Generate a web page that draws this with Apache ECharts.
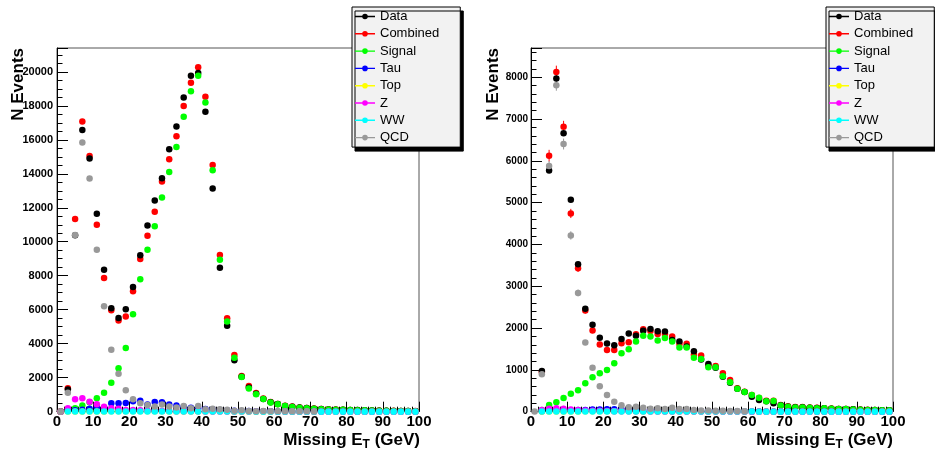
<!DOCTYPE html>
<html>
<head>
<meta charset="utf-8">
<script src="https://cdn.jsdelivr.net/npm/echarts@6/dist/echarts.min.js"></script>
<style>
html,body{margin:0;padding:0;background:#fff;}
#chart{width:935px;height:453px;}
</style>
</head>
<body>
<div id="chart"></div>
<script>
// Bin centres (Missing E_T, GeV)
const binCenters = [1,3,5,7,9,11,13,15,17,19,21,23,25,27,29,31,33,35,37,39,41,43,45,47,49,
  51,53,55,57,59,61,63,65,67,69,71,73,75,77,79,81,83,85,87,89,91,93,95,97,99];
const seriesNames = ['Data','Combined','Signal','Tau','Top','Z','WW','QCD'];
const xTicks = [0,10,20,30,40,50,60,70,80,90,100];

// ---- Left panel ----
const dataL = [10,1300,10380,16580,14900,11650,8350,6090,5520,6030,7330,9200,10960,12420,13740,15440,16780,18490,19770,19930,17650,13130,8470,5050,3030,
  2060,1420,1060,750,550,450,330,290,240,215,175,155,135,118,115,98,95,80,70,60,52,45,40,35,30];
const combL = [10,1380,11340,17080,15050,11000,7860,5970,5360,5600,7090,8980,10360,11770,13540,14860,16210,17980,19360,20260,18530,14520,9220,5500,3340,
  2100,1510,1100,780,570,460,350,300,250,225,185,165,145,125,120,105,100,85,75,65,58,50,45,40,35];
const sigL = [0,50,200,360,550,790,1120,1710,2550,3750,5740,7800,9530,10910,12600,14110,15580,17350,18860,19770,18200,14210,8940,5300,3180,
  2040,1360,1020,740,540,440,330,280,230,210,170,150,130,112,110,95,90,78,68,58,50,44,38,34,28];
const tauL = [0,50,80,120,170,260,200,490,490,510,610,650,430,570,550,430,370,295,235,200,160,140,100,80,60,
  45,35,30,25,20,15,12,10,10,8,8,6,6,5,5,4,4,3,3,3,2,2,2,2,2];
const topL = [0,5,8,10,12,15,18,20,22,24,25,25,24,22,20,18,16,14,12,10,8,7,6,5,4,
  4,3,3,2,2,2,2,1,1,1,1,1,1,1,1,1,1,1,1,1,1,1,1,1,1];
const zL = [0,200,727,786,590,432,295,200,177,100,100,80,60,50,40,35,30,25,20,20,15,12,10,10,8,
  8,6,6,5,5,4,4,3,3,3,2,2,2,2,2,2,2,1,1,1,1,1,1,1,1];
const wwL = [null,10,12,14,15,16,17,18,18,18,18,17,16,15,14,13,12,11,10,10,9,8,7,6,6,
  5,5,4,4,4,3,3,3,3,2,2,2,2,2,2,2,2,1,1,1,1,1,1,1,1];
const qcdL = [0,1120,10390,15840,13720,9530,6210,3650,2240,1260,730,490,390,300,430,300,240,330,200,330,140,180,140,120,60,
  80,40,30,35,30,25,30,20,25,20,15,null,null,null,null,null,null,null,null,null,null,null,null,null,null];

// ---- Right panel ----
const dataR = [null,974,5770,7970,6660,5070,3530,2460,2080,1770,1630,1590,1740,1870,1815,1935,1980,1925,1918,1718,1678,1560,1445,1250,1140,
  1054,838,695,551,471,359,279,247,200,152,120,104,104,96,88,80,72,64,64,56,48,40,40,32,32];
const combR = [null,950,6124,8128,6818,4742,3433,2419,1940,1605,1477,1477,1637,1661,1852,1972,1932,1860,1860,1800,1620,1625,1360,1345,1110,
  1094,918,758,560,480,399,330,260,263,160,128,110,110,100,92,85,76,66,66,60,52,45,42,36,35];
const sigR = [null,40,160,224,327,431,511,679,822,918,998,1158,1400,1495,1680,1815,1800,1705,1760,1680,1537,1535,1290,1260,1062,
  1062,846,703,551,471,399,335,247,255,150,120,100,100,95,85,80,70,62,62,55,48,42,40,32,32];
const tauR = [null,10,20,30,30,30,40,40,50,50,60,60,50,40,40,30,30,25,20,20,15,12,10,10,8,
  8,6,6,5,5,4,4,3,3,3,2,2,2,2,2,2,2,1,1,1,1,1,1,1,1];
const topR = [null,2,3,4,5,6,7,8,8,9,9,9,9,8,8,7,7,6,6,5,5,4,4,3,3,
  3,2,2,2,2,1,1,1,1,1,1,1,1,1,1,1,1,1,1,1,1,1,1,1,1];
const zR = [null,40,70,80,70,50,40,30,25,20,15,12,10,10,8,8,6,6,5,5,4,4,3,3,3,
  2,2,2,2,2,1,1,1,1,1,1,1,1,1,1,1,1,1,1,1,1,1,1,1,1];
const wwR = [null,4,5,6,6,7,7,7,7,7,7,7,6,6,6,5,5,5,4,4,4,3,3,3,3,
  2,2,2,2,2,2,1,1,1,1,1,1,1,1,1,1,1,1,1,1,1,1,1,1,1];
const qcdR = [5,894,5876,7808,6403,4216,2842,1653,1054,607,399,240,152,104,120,96,72,80,64,96,64,64,40,30,30,
  20,20,15,15,10,null,null,null,null,null,null,null,null,null,null,null,null,null,null,null,null,null,null,null,null];
// Uncertainties (right panel)
const errCombR = [0,60,140,150,140,110,90,70,60,50,45,45,45,45,45,45,45,45,45,45,40,40,40,40,35,
  35,30,30,25,25,20,20,20,20,15,15,15,15,15,15,12,12,12,12,12,10,10,10,10,10];
const errQcdR = [0,60,120,130,130,100,80,60,50,40,35,30,25,20,20,20,15,15,15,15,15,15,10,10,10,
  10,10,8,8,6,0,0,0,0,0,0,0,0,0,0,0,0,0,0,0,0,0,0,0,0];

const colors = {Data:'#000000',Combined:'#ff0000',Signal:'#00ff00',Tau:'#0000ff',Top:'#ffff00',Z:'#ff00ff',WW:'#00ffff',QCD:'#999999'};
const FONT = "'Liberation Sans', Arial, Helvetica, sans-serif";

const chart = echarts.init(document.getElementById('chart'), null, {renderer:'canvas'});

function pts(arr){ return binCenters.map((x,i)=>[x, arr[i]]); }
function errPts(vals, errs){ return binCenters.map((x,i)=> vals[i]==null ? null : [x, vals[i], errs[i]]).filter(p=>p); }

function scat(name, arr, gi){
  return {type:'scatter', name:name, xAxisIndex:gi, yAxisIndex:gi*2, data:pts(arr),
    symbol:'circle', symbolSize:6.5, itemStyle:{color:colors[name], opacity:1}, silent:true, animation:false};
}
function errSeries(name, vals, errs, gi, color){
  return {type:'custom', name:name, xAxisIndex:gi, yAxisIndex:gi*2, data:errPts(vals, errs),
    encode:{x:0,y:1}, silent:true, animation:false,
    renderItem:function(params, api){
      const x=api.value(0), y=api.value(1), e=api.value(2);
      const a=api.coord([x,y-e]), b=api.coord([x,y+e]);
      return {type:'line', shape:{x1:a[0],y1:a[1],x2:b[0],y2:b[1]}, style:{stroke:color,lineWidth:1}};
    }};
}

const iconPath = 'path://M0,0L0.01,0L0.01,0.01Z M19.99,12L20,12L20,11.99Z M0,5.3L20,5.3L20,6.7L0,6.7Z M12.8,6A2.8,2.8,0,1,1,7.2,6A2.8,2.8,0,1,1,12.8,6Z';

function legendAt(left){
  return {orient:'vertical', left:left, top:7, data:seriesNames, icon:iconPath,
    itemWidth:20, itemHeight:12, itemGap:4.3, padding:[3,21,3,3],
    backgroundColor:'#f2f2f2', borderColor:'#000', borderWidth:1,
    shadowColor:'#000', shadowBlur:0, shadowOffsetX:3, shadowOffsetY:4,
    textStyle:{fontSize:13, fontFamily:FONT, color:'#000'}, selectedMode:false};
}

function xAxisFor(gi){
  return {type:'value', gridIndex:gi, min:0, max:100, interval:10,
    axisLine:{show:true, onZero:false, lineStyle:{color:'#000', width:1}},
    axisTick:{show:true, inside:true, length:10, lineStyle:{color:'#000'}},
    minorTick:{show:true, splitNumber:5, length:5, lineStyle:{color:'#000'}},
    axisLabel:{show:true, margin:3, fontSize:15, fontWeight:'bold', fontFamily:FONT, color:'#000',
      formatter:function(v){ return xTicks.indexOf(v)>=0 ? String(v) : ''; }},
    splitLine:{show:false}};
}
function yMinorAxis(gi, max, minorInt){
  return {type:'value', gridIndex:gi, min:0, max:max, interval:minorInt, position:'left',
    axisLine:{show:true, onZero:false, lineStyle:{color:'#000', width:1}},
    axisTick:{show:true, inside:true, length:5.5, lineStyle:{color:'#000'}},
    axisLabel:{show:false}, splitLine:{show:false}};
}
function yMajorAxis(gi, max, majInt, fs, margin){
  return {type:'value', gridIndex:gi, min:0, max:max, interval:majInt, position:'left',
    axisLine:{show:false},
    axisTick:{show:true, inside:true, length:11, lineStyle:{color:'#000'}},
    axisLabel:{show:true, margin:margin, fontSize:fs, fontWeight:'bold', fontFamily:FONT, color:'#000',
      formatter:function(v){ return (v % majInt === 0) ? String(v) : ''; }},
    splitLine:{show:false}};
}

function panelSeries(gi, d){
  const s = [];
  if (d.errs) d.errs.forEach(e=>s.push(e));
  s.push(scat('Combined', d.comb, gi));
  s.push(scat('Data', d.data, gi));
  s.push(scat('Signal', d.sig, gi));
  s.push(scat('Tau', d.tau, gi));
  s.push(scat('Top', d.top, gi));
  s.push(scat('Z', d.z, gi));
  s.push(scat('WW', d.ww, gi));
  s.push(scat('QCD', d.qcd, gi));
  return s;
}

const richX = {
  a:{fontSize:17, fontWeight:'bold', fontFamily:FONT, color:'#000', lineHeight:20, verticalAlign:'middle'},
  s:{fontSize:12, fontWeight:'bold', fontFamily:FONT, color:'#000', lineHeight:12, verticalAlign:'bottom'}
};
function xTitle(right){
  return {type:'text', right:935-right, top:432, style:{text:'{a|Missing E}{s|T}{a| (GeV)}', rich:richX, fill:'#000'}};
}
function yTitle(cx){
  return {type:'text', x:cx, y:48, rotation:Math.PI/2,
    style:{text:'N Events', font:"bold 17px "+FONT, fill:'#000', textAlign:'right', textVerticalAlign:'middle'}};
}

const option = {
  backgroundColor:'#ffffff',
  animation:false,
  grid:[
    {left:57, top:48, width:362, height:363.7, show:true, borderColor:'#555', borderWidth:1, backgroundColor:'transparent'},
    {left:531, top:48, width:362, height:363.7, show:true, borderColor:'#555', borderWidth:1, backgroundColor:'transparent'}
  ],
  xAxis:[xAxisFor(0), xAxisFor(1)],
  yAxis:[yMinorAxis(0,21400,500), yMajorAxis(0,21400,2000,11,4), yMinorAxis(1,8700,200), yMajorAxis(1,8700,1000,10,3)],
  legend:[legendAt(352), legendAt(826)],
  series: panelSeries(0,{data:dataL,comb:combL,sig:sigL,tau:tauL,top:topL,z:zL,ww:wwL,qcd:qcdL})
    .concat(panelSeries(1,{data:dataR,comb:combR,sig:sigR,tau:tauR,top:topR,z:zR,ww:wwR,qcd:qcdR,
      errs:[errSeries('errCombined',combR,errCombR,1,colors.Combined), errSeries('errQCD',qcdR,errQcdR,1,colors.QCD)]})),
  graphic:[yTitle(18), yTitle(493), xTitle(420), xTitle(893)]
};
chart.setOption(option);
</script>
</body>
</html>
